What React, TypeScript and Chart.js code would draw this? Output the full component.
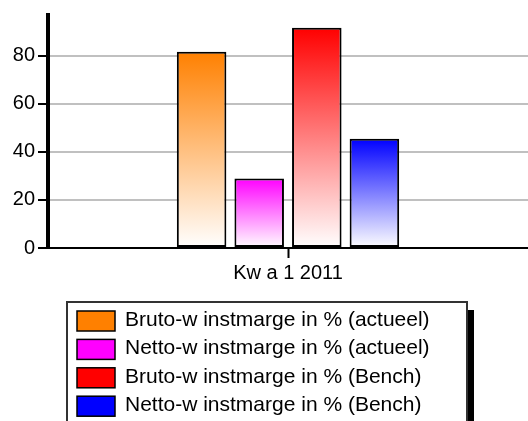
import React, { useEffect, useRef } from "react";
import { Chart, registerables } from "chart.js";

Chart.register(...registerables);

const categories = ["Kw a 1 2011"];
const seriesLabels = [
  "Bruto-w instmarge in % (actueel)",
  "Netto-w instmarge in % (actueel)",
  "Bruto-w instmarge in % (Bench)",
  "Netto-w instmarge in % (Bench)",
];
const brutoActueel = [81.7];
const nettoActueel = [28.9];
const brutoBench = [91.7];
const nettoBench = [45.5];
const seriesColors = ["#ff8000", "#ff00ff", "#ff0000", "#0000ff"];
const yMax = 97;
const yStep = 20;

const FONT = "'Liberation Sans', Arial, sans-serif";

function gradientFill(color: string) {
  return (ctx: any) => {
    const chart = ctx.chart;
    const y = chart.scales && chart.scales.y;
    if (!y || ctx.type !== "data" || typeof ctx.raw !== "number") return color;
    const top = y.getPixelForValue(ctx.raw);
    const bottom = y.getPixelForValue(0);
    if (!isFinite(top) || !isFinite(bottom) || top === bottom) return color;
    const g = chart.ctx.createLinearGradient(0, top, 0, bottom);
    g.addColorStop(0, color);
    g.addColorStop(1, "#ffffff");
    return g;
  };
}

const legendPlugin = {
  id: "boxLegend",
  afterDraw(chart: any) {
    const c = chart.ctx;
    c.save();
    const left = 67, top = 302, right = 467, bottom = 430;
    // shadow
    c.fillStyle = "#000";
    c.fillRect(right, top + 8, 7, bottom - top);
    // box
    c.fillStyle = "#fff";
    c.fillRect(left, top, right - left, bottom - top);
    c.strokeStyle = "#333";
    c.lineWidth = 2;
    c.strokeRect(left, top, right - left, bottom - top);
    c.font = `21px ${FONT}`;
    c.textBaseline = "middle";
    c.textAlign = "left";
    seriesLabels.forEach((label, i) => {
      const sy = 311 + i * 28.4;
      c.fillStyle = seriesColors[i];
      c.fillRect(77, sy, 38, 20);
      c.strokeStyle = "#000";
      c.lineWidth = 1.5;
      c.strokeRect(77, sy, 38, 20);
      c.fillStyle = "#000";
      c.fillText(label, 125, sy + 9);
    });
    c.restore();
  },
};

export default function App() {
  const ref = useRef<HTMLCanvasElement | null>(null);
  useEffect(() => {
    document.body.style.margin = "0";
    const series = [brutoActueel, nettoActueel, brutoBench, nettoBench];
    const chart = new Chart(ref.current as HTMLCanvasElement, {
      type: "bar",
      data: {
        labels: categories,
        datasets: series.map((data, i) => ({
          label: seriesLabels[i],
          data,
          backgroundColor: gradientFill(seriesColors[i]),
          borderColor: "#000",
          borderWidth: 2,
          borderSkipped: false,
          categoryPercentage: 0.48,
          barPercentage: 0.86,
        })),
      },
      options: {
        animation: false,
        responsive: true,
        maintainAspectRatio: false,
        layout: { padding: { top: 12, bottom: 133, left: 0, right: 0 } },
        plugins: { legend: { display: false }, tooltip: { enabled: false } },
        scales: {
          x: {
            grid: {
              offset: false,
              drawOnChartArea: false,
              tickColor: "#000",
              tickLength: 10,
              tickWidth: 2,
            },
            border: { color: "#000", width: 2 },
            ticks: { color: "#000", font: { family: FONT, size: 20 }, padding: 3 },
            afterFit: (s: any) => {
              s.height = 40;
            },
          },
          y: {
            min: 0,
            max: yMax,
            ticks: {
              stepSize: yStep,
              includeBounds: false,
              color: "#000",
              font: { family: FONT, size: 20 },
              padding: 3,
            },
            grid: {
              color: "#c0c0c0",
              lineWidth: 2,
              tickColor: "#000",
              tickLength: 10,
              tickWidth: 2,
            },
            border: { color: "#000", width: 4 },
            afterFit: (s: any) => {
              s.width = 48;
            },
          },
        },
      },
      plugins: [legendPlugin],
    });
    return () => chart.destroy();
  }, []);
  return (
    <div style={{ position: "fixed", left: 0, top: 0, width: 528, height: 421, background: "#fff" }}>
      <canvas ref={ref} />
    </div>
  );
}
